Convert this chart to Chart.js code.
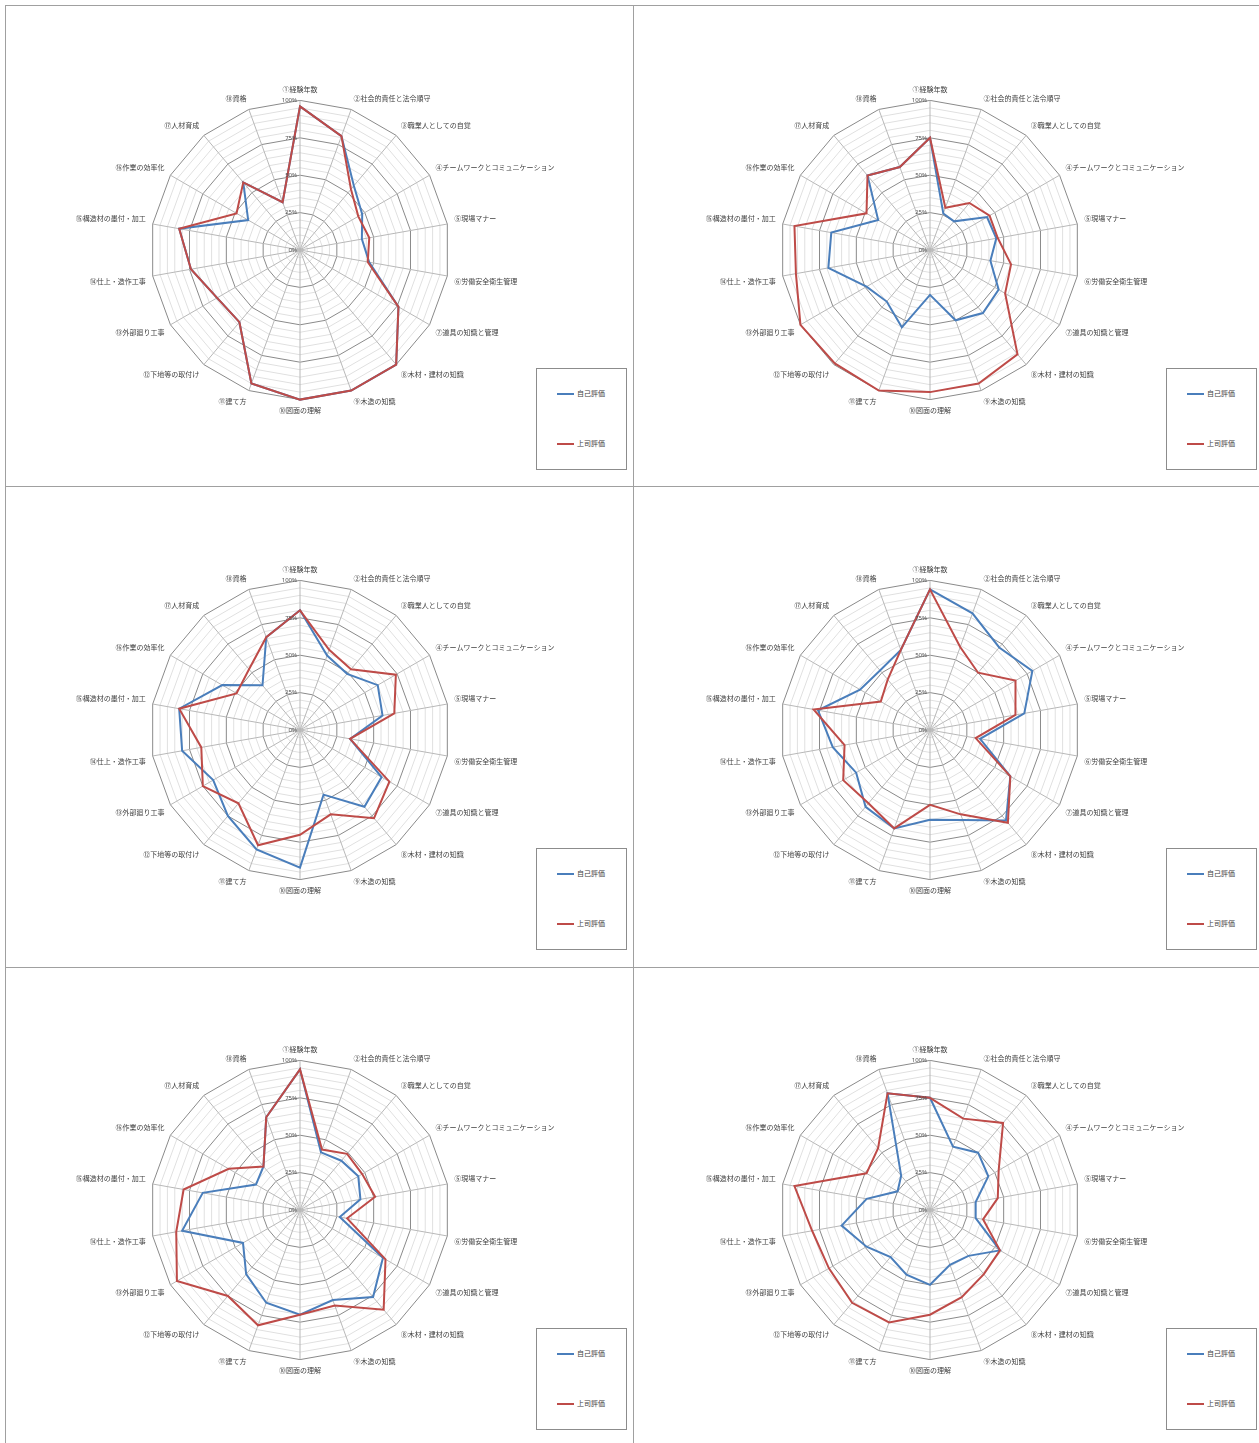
<!DOCTYPE html>
<html>
<head>
<meta charset="utf-8">
<script src="https://cdn.jsdelivr.net/npm/chart.js@4.4.0/dist/chart.umd.min.js"></script>
<style>
  body { margin: 0; background: #fff; width: 1259px; height: 1443px; position: relative; overflow: hidden; font-family: "Noto Sans CJK JP", sans-serif; }
  .cell { position: absolute; border-top: 1px solid #a0a0a0; border-left: 1px solid #a0a0a0; box-sizing: border-box; }
  canvas { position: absolute; }
  .lg { position: absolute; width: 91px; height: 102px; border: 1px solid #8c8c8c; box-sizing: border-box; background: #fff; z-index: 2; }
  .lg .it { position: absolute; left: 20px; height: 10px; line-height: 10px; font-size: 7px; color: #404040; white-space: nowrap; }
  .lg .sw { display: inline-block; width: 17px; height: 2px; vertical-align: middle; margin-right: 3px; }
</style>
</head>
<body>
<script>
const axisLabels = [
  '①経験年数', '②社会的責任と法令順守', '③職業人としての自覚', '④チームワークとコミュニケーション',
  '⑤現場マナー', '⑥労働安全衛生管理', '⑦道具の知識と管理', '⑧木材・建材の知識', '⑨木造の知識',
  '⑩図面の理解', '⑪建て方', '⑫下地等の取付け', '⑬外部廻り工事', '⑭仕上・造作工事',
  '⑮構造材の墨付・加工', '⑯作業の効率化', '⑰人材育成', '⑱資格'
];
const seriesNames = ['自己評価', '上司評価'];
const tickMarks = [0, 25, 50, 75, 100];

// 自己評価 / 上司評価, one pair per chart (left to right, top to bottom)
const self1 = [96, 81, 56, 48, 42, 47, 76, 100, 100, 100, 95, 63, 64, 74, 82, 40, 59, 34];
const boss1 = [96, 81, 53, 45, 47, 46, 76, 100, 100, 100, 95, 63, 64, 74, 82, 49, 59, 34];
const self2 = [75, 26, 25, 44, 45, 41, 53, 55, 50, 30, 55, 45, 49, 69, 67, 40, 65, 59];
const boss2 = [75, 30, 41, 46, 46, 55, 58, 91, 95, 95, 100, 99, 100, 91, 92, 49, 65, 59];
const self3 = [80, 53, 49, 60, 56, 34, 63, 67, 46, 92, 85, 75, 67, 80, 82, 60, 39, 66];
const boss3 = [80, 57, 53, 74, 64, 34, 69, 77, 60, 70, 82, 64, 75, 67, 82, 49, 53, 66];
const self4 = [94, 83, 72, 79, 64, 34, 62, 79, 64, 60, 70, 67, 57, 66, 76, 54, 52, 57];
const boss4 = [94, 59, 50, 66, 58, 31, 62, 81, 60, 50, 70, 64, 67, 58, 79, 38, 44, 57];
const self5 = [94, 41, 43, 45, 41, 27, 64, 76, 64, 70, 66, 56, 44, 80, 66, 34, 38, 66];
const boss5 = [94, 43, 49, 48, 51, 32, 66, 87, 68, 70, 82, 75, 95, 84, 79, 55, 38, 66];
const self6 = [75, 45, 50, 45, 31, 31, 54, 40, 39, 50, 46, 41, 49, 60, 43, 25, 30, 83];
const boss6 = [75, 65, 76, 53, 46, 36, 54, 56, 62, 70, 80, 81, 78, 80, 92, 49, 54, 83];

const selfSets = [self1, self2, self3, self4, self5, self6];
const bossSets = [boss1, boss2, boss3, boss4, boss5, boss6];

const BLUE = '#4a7ebb';
const RED = '#be4b48';

// draws the % labels left of the vertical axis
const tickText = {
  id: 'tickText',
  afterDraw(chart) {
    const s = chart.scales.r;
    const ctx = chart.ctx;
    ctx.save();
    ctx.font = '6px "Noto Sans", sans-serif';
    ctx.fillStyle = '#505050';
    ctx.textAlign = 'right';
    ctx.textBaseline = 'middle';
    tickMarks.forEach(v => {
      const p = s.getPointPositionForValue(0, v);
      ctx.fillText(v + '%', p.x - 3, p.y);
    });
    ctx.restore();
  }
};

function makePanel(i) {
  const col = i % 2, row = Math.floor(i / 2);
  const dx = col * 630, dy = row * 480;

  const cell = document.createElement('div');
  cell.className = 'cell';
  cell.style.left = (5 + col * 628) + 'px';
  cell.style.top = (5 + row * 481) + 'px';
  cell.style.width = (col ? 640 : 628) + 'px';
  cell.style.height = (row === 2 ? 480 : 481) + 'px';
  document.body.appendChild(cell);

  const cv = document.createElement('canvas');
  cv.width = 540; cv.height = 331;
  cv.style.left = (30 + dx) + 'px';
  cv.style.top = (85 + dy) + 'px';
  document.body.appendChild(cv);

  new Chart(cv, {
    type: 'radar',
    data: {
      labels: axisLabels,
      datasets: [
        { label: seriesNames[0], data: selfSets[i], borderColor: BLUE, borderWidth: 2, pointRadius: 0, fill: false, order: 2 },
        { label: seriesNames[1], data: bossSets[i], borderColor: RED, borderWidth: 2, pointRadius: 0, fill: false, order: 1 }
      ]
    },
    options: {
      responsive: false,
      animation: false,
      plugins: { legend: { display: false }, tooltip: { enabled: false } },
      scales: {
        r: {
          min: 0, max: 100,
          ticks: { stepSize: 5, display: false },
          grid: {
            circular: false,
            color: c => (c.tick.value % 25 === 0 ? '#8a8a8a' : '#e0e0e0'),
            lineWidth: 1
          },
          angleLines: { color: '#b8b8b8', lineWidth: 1 },
          pointLabels: {
            padding: 7,
            color: '#404040',
            font: { family: '"Noto Sans CJK JP", sans-serif', size: 7 }
          }
        }
      }
    },
    plugins: [tickText]
  });

  const lg = document.createElement('div');
  lg.className = 'lg';
  lg.style.left = (536 + dx) + 'px';
  lg.style.top = (368 + dy) + 'px';
  lg.innerHTML =
    '<div class="it" style="top:19px"><span class="sw" style="background:' + BLUE + '"></span>' + seriesNames[0] + '</div>' +
    '<div class="it" style="top:69px"><span class="sw" style="background:' + RED + '"></span>' + seriesNames[1] + '</div>';
  document.body.appendChild(lg);
}

for (let i = 0; i < 6; i++) makePanel(i);
</script>
</body>
</html>
